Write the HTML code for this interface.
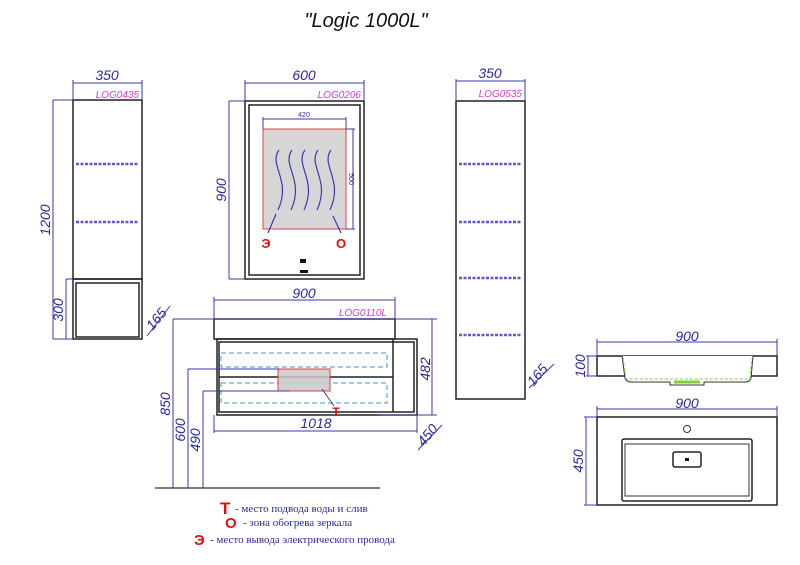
<!DOCTYPE html>
<html><head><meta charset="utf-8"><style>
body{margin:0;background:#fff}
svg text{font-family:"Liberation Sans",sans-serif}
svg text.serif{font-family:"Liberation Serif",serif}
.d{fill:#2a2aa0;font-style:italic;font-size:14px}
.m{fill:#d23cd2;font-style:italic;font-size:10px}
.dl{stroke:#3a3aa8;stroke-width:1;fill:none}
.k{stroke:#222;fill:none;stroke-width:1.5}
.dash{stroke:#5a5ad0;stroke-width:2.5;stroke-dasharray:3 1.5}
</style></head><body>
<svg width="800" height="560" xmlns="http://www.w3.org/2000/svg">
<text x="366" y="27" text-anchor="middle" font-size="20" font-style="italic" fill="#111">"Logic 1000L"</text>

<!-- Left cabinet -->
<rect x="73" y="100" width="69" height="179" class="k"/>
<rect x="73" y="279" width="69" height="60" class="k"/>
<rect x="76" y="283" width="63" height="54" class="k" stroke-width="1"/>
<line x1="76" y1="164" x2="139" y2="164" class="dash"/>
<line x1="76" y1="222" x2="139" y2="222" class="dash"/>
<path class="dl" d="M73 80V100M142 80V100M73 83H142M53 100H73M53 100V339M53 339H73M66 279V339M66 279H73"/>
<text x="107" y="80" text-anchor="middle" class="d">350</text>
<text x="139" y="98" text-anchor="end" class="m">LOG0435</text>
<text x="0" y="0" class="d" text-anchor="middle" transform="translate(50,220) rotate(-90)">1200</text>
<text x="0" y="0" class="d" text-anchor="middle" transform="translate(63,310) rotate(-90)">300</text>
<line x1="147" y1="336" x2="170" y2="306" class="dl"/>
<text x="0" y="0" class="d" text-anchor="middle" transform="translate(160,322) rotate(-50)">165</text>

<!-- Mirror -->
<rect x="245" y="101" width="119" height="178" class="k"/>
<rect x="249" y="105" width="111" height="170" class="k" stroke-width="1"/>
<rect x="263" y="129" width="83" height="100" fill="#d6d6d6" stroke="#e04040" stroke-width="1"/>
<g stroke="#3a3ab0" stroke-width="1.2" fill="none">
<path d="M279 150C268 165 292 180 278 210"/>
<path d="M292 150C281 165 305 180 291 210"/>
<path d="M305 150C294 165 318 180 304 210"/>
<path d="M318 150C307 165 331 180 317 210"/>
<path d="M331 150C320 165 344 180 330 210"/>
<path d="M276 214L268 233M333 216L341 233"/>
</g>
<text x="266" y="248" text-anchor="middle" font-size="13" font-weight="bold" fill="#e01010">Э</text>
<text x="341" y="248" text-anchor="middle" font-size="13" font-weight="bold" fill="#e01010">О</text>
<rect x="300" y="259" width="6" height="4" fill="#111"/>
<rect x="300" y="270" width="8" height="3" fill="#111"/>
<path class="dl" d="M245 80V101M364 80V101M245 83H364M229 101H245M229 101V279M229 279H245M263 117V129M346 117V129M263 119H346M346 129H355M346 229H355M353 129V229"/>
<text x="304" y="80" text-anchor="middle" class="d">600</text>
<text x="361" y="98" text-anchor="end" class="m">LOG0206</text>
<text x="304" y="117" text-anchor="middle" font-size="7" fill="#2a2aa0">420</text>
<text x="0" y="0" font-size="7" fill="#2a2aa0" text-anchor="middle" transform="translate(349,179) rotate(90)">500</text>
<text x="0" y="0" class="d" text-anchor="middle" transform="translate(226,190) rotate(-90)">900</text>

<!-- Right cabinet -->
<rect x="456" y="101" width="69" height="298" class="k"/>
<line x1="459" y1="164" x2="522" y2="164" class="dash"/>
<line x1="459" y1="222" x2="522" y2="222" class="dash"/>
<line x1="459" y1="278" x2="522" y2="278" class="dash"/>
<line x1="459" y1="335" x2="522" y2="335" class="dash"/>
<path class="dl" d="M456 79V101M525 79V101M456 81H525"/>
<text x="490" y="78" text-anchor="middle" class="d">350</text>
<text x="522" y="97" text-anchor="end" class="m">LOG0535</text>
<line x1="529" y1="388" x2="554" y2="364" class="dl"/>
<text x="0" y="0" class="d" text-anchor="middle" transform="translate(541,378) rotate(-50)">165</text>

<!-- Vanity -->
<rect x="214" y="319" width="181" height="20" class="k" stroke-width="1"/>
<rect x="217" y="339" width="200" height="76" class="k"/>
<rect x="219" y="342" width="195" height="70" class="k" stroke-width="1"/>
<line x1="393" y1="340" x2="393" y2="412" stroke="#222" stroke-width="1.5"/>
<line x1="219" y1="377" x2="393" y2="377" stroke="#222" stroke-width="1.5"/>
<rect x="221" y="353" width="166" height="14" fill="none" stroke="#4a90d0" stroke-dasharray="5 3"/>
<rect x="221" y="383" width="166" height="20" fill="none" stroke="#4a90d0" stroke-dasharray="5 3"/>
<rect x="278" y="369" width="52" height="22" fill="rgba(200,200,200,0.85)" stroke="#e04040"/>
<line x1="322" y1="389" x2="334" y2="406" class="dl" stroke-width="1.5"/>
<text x="336" y="416" text-anchor="middle" font-size="12" font-weight="bold" fill="#e01010">Т</text>
<path class="dl" d="M214 297V319M395 297V319M214 300H395M173 319H437M432 319V415M380 415H437M214 415V433M417 415V433M214 431H417M173 319V488M188 369V488M188 369H280M203 391V488M203 391H290"/>
<line x1="155" y1="488" x2="380" y2="488" stroke="#333" stroke-width="1.2"/>
<text x="304" y="298" text-anchor="middle" class="d">900</text>
<text x="387" y="316" text-anchor="end" class="m">LOG0110L</text>
<text x="316" y="428" text-anchor="middle" class="d">1018</text>
<text x="0" y="0" class="d" text-anchor="middle" transform="translate(430,369) rotate(-90)">482</text>
<line x1="418" y1="450" x2="442" y2="425" class="dl"/>
<text x="0" y="0" class="d" text-anchor="middle" transform="translate(431,438) rotate(-50)">450</text>
<text x="0" y="0" class="d" text-anchor="middle" transform="translate(170,404) rotate(-90)">850</text>
<text x="0" y="0" class="d" text-anchor="middle" transform="translate(185,430) rotate(-90)">600</text>
<text x="0" y="0" class="d" text-anchor="middle" transform="translate(200,440) rotate(-90)">490</text>

<!-- Legend -->
<text x="220" y="514" font-size="17" font-weight="bold" fill="#e01010">Т</text>
<text x="235" y="512" font-size="11" fill="#2a2aa0" class="serif">- место подвода воды и слив</text>
<text x="225" y="528" font-size="15" font-weight="bold" fill="#e01010">О</text>
<text x="243" y="526" font-size="11" fill="#2a2aa0" class="serif">-  зона обогрева зеркала</text>
<text x="194" y="545" font-size="15" font-weight="bold" fill="#e01010">Э</text>
<text x="210" y="543" font-size="11" fill="#2a2aa0" class="serif">-  место вывода электрического провода</text>

<!-- Sink side -->
<rect x="597" y="356" width="180" height="20" class="k" stroke-width="1.2"/>
<path d="M622 356L625 378Q626 382 632 382H670V385H704V382H745Q750 382 751 378L753 356" fill="#fff" stroke="#333"/>
<path d="M623 358L626 379H750L752 358" fill="none" stroke="#7cd040" stroke-dasharray="3 2"/>
<line x1="674" y1="382" x2="700" y2="382" stroke="#7cd040" stroke-width="3"/>
<path class="dl" d="M597 339V356M777 339V356M597 342H777M586 356H597M586 376H597M588 356V376"/>
<text x="687" y="341" text-anchor="middle" class="d">900</text>
<text x="0" y="0" class="d" text-anchor="middle" transform="translate(585,366) rotate(-90)">100</text>

<!-- Sink top -->
<rect x="597" y="417" width="180" height="88" class="k" stroke-width="1.2"/>
<rect x="622" y="439" width="130" height="62" class="k" stroke-width="1.2" rx="2"/>
<rect x="625" y="444" width="124" height="52" fill="none" stroke="#333" stroke-width="1"/>
<rect x="673" y="452" width="28" height="15" rx="2" class="k"/>
<rect x="685" y="458" width="4" height="3" fill="#111"/>
<circle cx="687" cy="429" r="3.5" fill="none" stroke="#333"/>
<path class="dl" d="M597 406V417M777 406V417M597 409H777M584 417H597M584 505H597M586 417V505"/>
<text x="687" y="408" text-anchor="middle" class="d">900</text>
<text x="0" y="0" class="d" text-anchor="middle" transform="translate(583,461) rotate(-90)">450</text>
</svg>
</body></html>
